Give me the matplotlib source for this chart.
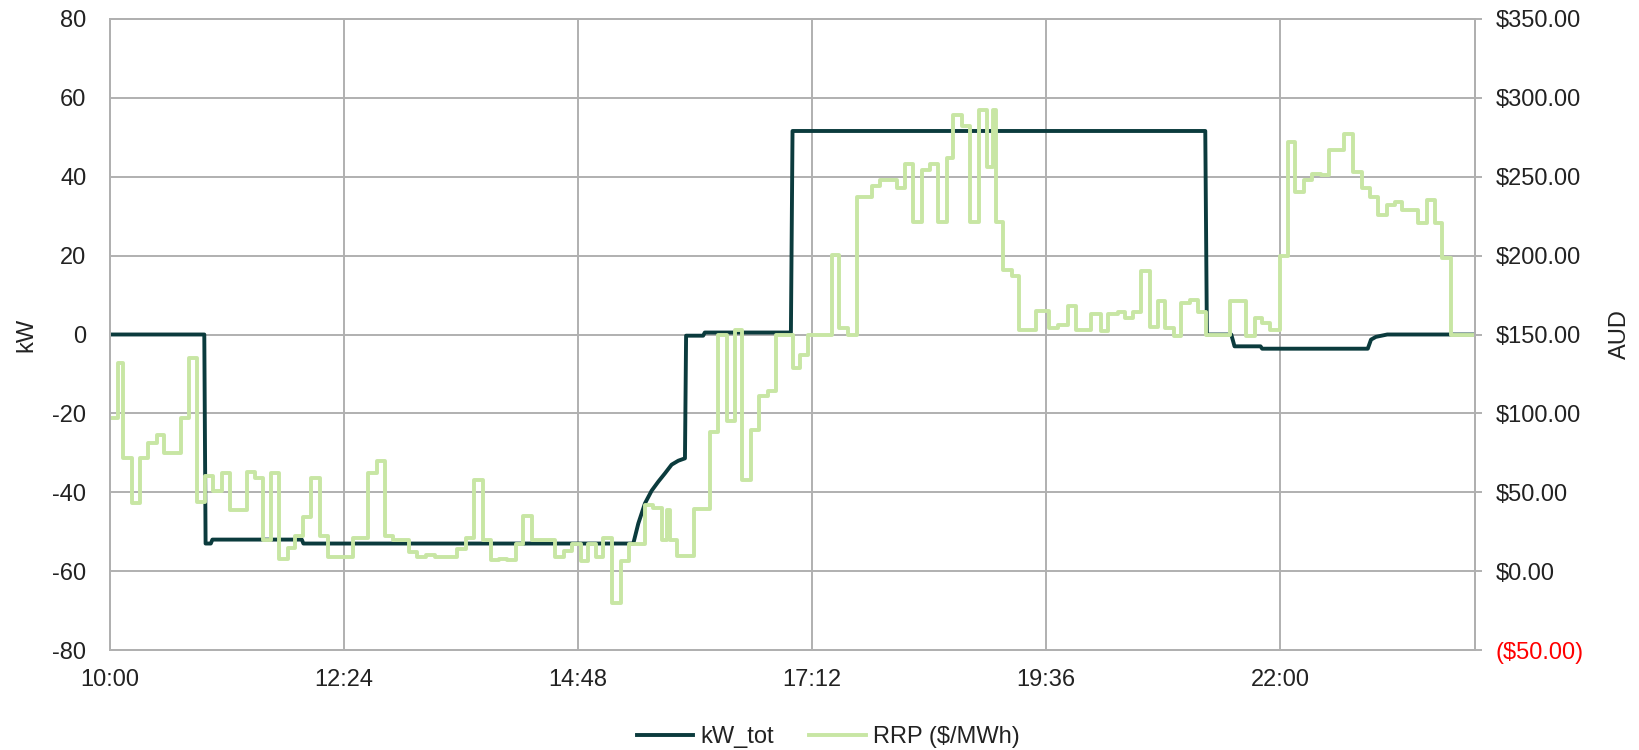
import matplotlib
matplotlib.use("Agg")
import matplotlib.pyplot as plt
from matplotlib.ticker import FuncFormatter

plt.rcParams["font.family"] = ["Liberation Sans", "DejaVu Sans"]
plt.rcParams["axes.unicode_minus"] = False

# ── Data (minutes after 10:00) ────────────────────────────────────────────────
kw_min = [0, 58, 58.8, 62, 63, 118, 119, 322, 325.1, 329.2, 333.3, 337.4,
          341.5, 345.6, 349.7, 353.8, 354.5, 365, 366, 419, 420, 674, 675,
          690, 692, 708, 709, 774, 776, 779, 786, 840]
kw_tot = [0, 0, -53, -53, -52, -52, -53, -53, -47.9, -42.8, -39.6, -37.3,
          -35.2, -33, -32, -31.4, -0.3, -0.3, 0.5, 0.5, 51.6, 51.6, 0,
          0, -3, -3, -3.6, -3.6, -1.3, -0.6, 0, 0]

rrp_min = [0, 4.7, 8.2, 13.7, 18.5, 23.2, 29, 33.4, 43.7, 48.6, 53.3, 58.5,
           63.6, 69.1, 73.8, 84.1, 89.2, 94, 99, 104, 109.3, 114, 119, 123.7,
           129, 134, 149.3, 159, 164, 169.2, 174.4, 184.2, 189.1, 194.4, 200,
           213.7, 219, 224.2, 229.3, 234.2, 239.6, 244.5, 249.8, 254.3, 259.5,
           273.8, 279.4, 284, 290, 294, 298.9, 303.6, 308.7, 314.5, 319.4,
           329.2, 334.3, 339.5, 343, 344.6, 348.6, 359.6, 369.3, 374.4, 379.5,
           384.3, 388.8, 394.5, 399.5, 404.8, 409.7, 420, 424.6, 429.3, 444,
           448.7, 454.2, 459.8, 469.2, 473.8, 484, 489.2, 494.4, 499.6, 504.6,
           509.8, 514.9, 519, 524.1, 529.2, 535, 539.5, 543.6, 545, 549.3,
           554.8, 559.5, 570, 577.6, 583.3, 589.5, 594.6, 603.8, 610, 614.1,
           620.3, 624.4, 629.5, 634.7, 639.8, 645, 649, 654.8, 659.3, 664.4,
           669.5, 674.7, 689, 699.3, 704.4, 708.7, 713.8, 720, 724.7, 729.2,
           735, 739.9, 745.2, 750.2, 759.6, 765.1, 770.3, 775.4, 780.1, 785.7,
           790.8, 794.9, 805.1, 810.3, 815.4, 819.9, 825.2, 840]
rrp = [97, 132, 72, 43, 72, 81, 86, 75, 97, 135, 44, 60,
       51, 62, 39, 63, 59, 20, 62, 8, 14.5, 22, 34.5, 59,
       22, 9, 21, 62, 69.5, 22, 20, 12, 9, 10, 9,
       14, 21, 58, 20, 7, 8, 7, 17.5, 35, 20,
       9, 13, 17.5, 6.5, 17.5, 9, 21, -20, 6.5, 17,
       42, 40, 20, 39, 20, 9.5, 39.5, 88.5, 150, 95,
       153, 58, 89.5, 111, 114, 150, 129, 137, 150, 200.7,
       154, 150, 237, 244, 248, 243, 258, 221, 254, 258,
       221, 262, 289, 282, 221, 292, 256, 292, 221, 191,
       187, 153, 165, 154, 156, 168, 153, 163, 152, 163,
       164, 160.5, 164, 190, 155, 171, 154, 149, 170, 172,
       164, 150, 171, 149, 160.5, 157, 153, 199.5, 272, 240.5,
       248, 252, 251, 267, 277, 253, 243, 237, 226, 232,
       234, 229, 220.5, 235, 220.5, 198.4, 150, 150]

x_ticks = [0, 144, 288, 432, 576, 720]
kw_ticks = [-80, -60, -40, -20, 0, 20, 40, 60, 80]
aud_ticks = [-50, 0, 50, 100, 150, 200, 250, 300, 350]

DARK = "#0b3b3d"
LIGHT = "#c8e6a4"
GRID = "#b0b0b0"
TEXT = "#222222"


def clock(m, _pos=None):
    total = 10 * 60 + int(round(m))
    return f"{total // 60}:{total % 60:02d}"


def money(v):
    return f"(${abs(v):.2f})" if v < 0 else f"${v:.2f}"


# ── Plot ──────────────────────────────────────────────────────────────────────
fig = plt.figure(figsize=(16.4, 7.5), dpi=100)
ax = fig.add_axes([0.0671, 0.1333, 0.8323, 0.8414])
ax2 = ax.twinx()

ax.plot(kw_min, kw_tot, color=DARK, lw=2.8, label="kW_tot",
        solid_joinstyle="round")
ax2.plot(rrp_min, rrp, color=LIGHT, lw=2.8, drawstyle="steps-post",
         label="RRP ($/MWh)")

ax.set_xlim(0, 840)
ax.set_ylim(-80, 80)
ax2.set_ylim(-50, 350)

ax.set_xticks(x_ticks + [840])
ax.xaxis.set_major_formatter(FuncFormatter(
    lambda m, p: "" if m == 840 else clock(m)))
ax.set_yticks(kw_ticks)
ax2.set_yticks(aud_ticks)
ax2.set_yticklabels([money(v) for v in aud_ticks])
for lab, v in zip(ax2.get_yticklabels(), aud_ticks):
    lab.set_color("red" if v < 0 else TEXT)

ax.grid(True, color=GRID, lw=1.4)
ax.set_axisbelow(True)
for a in (ax, ax2):
    for s in a.spines.values():
        s.set_color(GRID)
        s.set_linewidth(1.4)

ax.tick_params(axis="both", length=0, labelsize=17, colors=TEXT)
ax.tick_params(axis="y", pad=17)
ax.tick_params(axis="x", pad=14)
ax2.tick_params(axis="y", length=5, width=1.4, color=GRID, labelsize=17,
                pad=10)

fig.text(0.016, 0.554, "kW", rotation=90, ha="center", va="center",
         fontsize=17, color=TEXT)
fig.text(0.988, 0.554, "AUD", rotation=90, ha="center", va="center",
         fontsize=17, color=TEXT)

h1, l1 = ax.get_legend_handles_labels()
h2, l2 = ax2.get_legend_handles_labels()
fig.legend(h1 + h2, l1 + l2, loc="center", bbox_to_anchor=(0.505, 0.017),
           ncol=2, frameon=False, fontsize=17, handlelength=2.4,
           handletextpad=0.3, columnspacing=1.5, labelcolor=TEXT)

fig.savefig("out.png", dpi=100)
